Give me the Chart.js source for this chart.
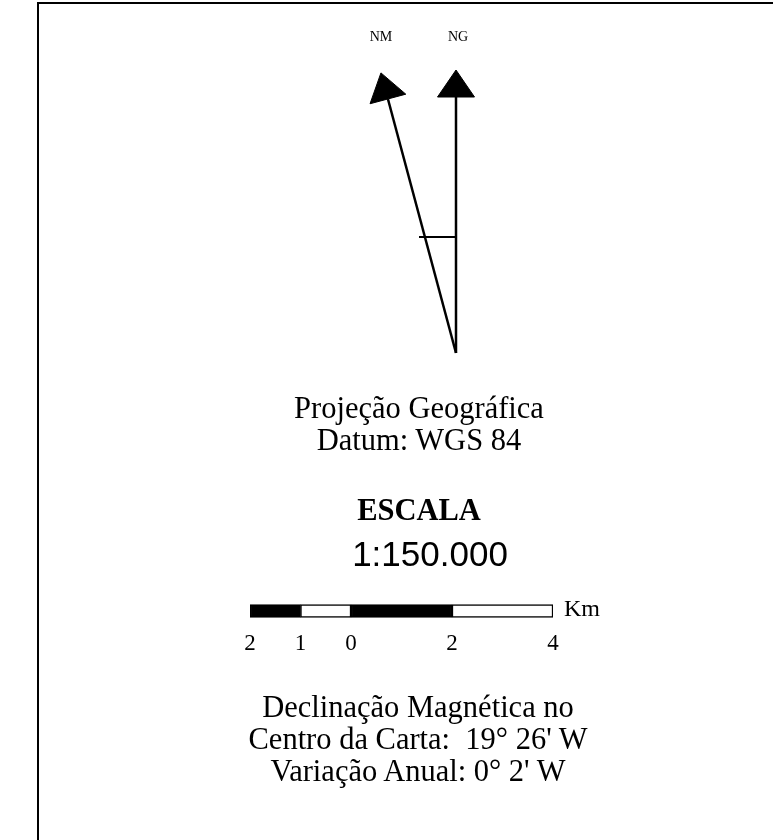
<!DOCTYPE html>
<html>
<head>
<meta charset="utf-8">
<title>Norte e escala</title>
<script src="https://cdn.jsdelivr.net/npm/chart.js@4.4.1/dist/chart.umd.min.js"></script>
<style>
  html, body { margin: 0; padding: 0; background: #fff; width: 773px; height: 840px; overflow: hidden; }
  body { position: relative; font-family: "Liberation Serif", "Times New Roman", serif; color: #000; }
  .frame { position: absolute; left: 37px; top: 2px; width: 800px; height: 900px;
           border-left: 2px solid #000; border-top: 2px solid #000; box-sizing: border-box; }
  canvas { position: absolute; }
  .txt { position: absolute; white-space: nowrap; text-align: center; transform: translateX(-50%); }
  .big { font-size: 30.5px; line-height: 32px; }
  .small { font-size: 14px; line-height: 14px; }
</style>
</head>
<body>
<div class="frame"></div>
<canvas id="north" width="773" height="840" style="left:0;top:0"></canvas>
<canvas id="scalebar" width="323" height="60" style="left:240px;top:596px"></canvas>

<div class="txt small" style="left:381px;top:30px">NM</div>
<div class="txt small" style="left:458px;top:30px">NG</div>

<div class="txt big" style="left:419px;top:392px">Projeção Geográfica<br>Datum: WGS 84</div>
<div class="txt big" style="left:419px;top:494px;font-weight:bold">ESCALA</div>
<div class="txt" style="left:430px;top:536px;font-family:'Liberation Sans',Arial,sans-serif;font-size:35px;line-height:35px">1:150.000</div>
<div class="txt" style="left:582px;top:596px;font-size:24px;line-height:24px">Km</div>
<div class="txt big" style="left:418px;top:691px">Declinação Magnética no<br>Centro da Carta:&nbsp; 19° 26' W<br>Variação Anual: 0° 2' W</div>

<script>
// north arrows: angle from grid north as drawn (deg) and shaft length
const arrowNames = ['NM', 'NG'];
const arrowAngles = [-15, 0];
const arrowLengths = [263, 256];
const headLength = 27;
const headWidth = 37;
// crossbar between the two shafts
const crossbarHeight = 116;
const crossbarWidth = 37;

// scale bar (km)
const scaleTicks = [-2, -1, 0, 2, 4];
const scaleSegments = [[-2, -1], [-1, 0], [0, 2], [2, 4]];

const serif = '"Liberation Serif", "Times New Roman", serif';

// build north arrow datasets (origin at the common foot, y up)
const northDatasets = [];
arrowAngles.forEach((deg, i) => {
  const a = deg * Math.PI / 180;
  const dx = Math.sin(a), dy = Math.cos(a);
  const L = arrowLengths[i];
  const base = { x: dx * L, y: dy * L };
  const tip = { x: dx * (L + headLength), y: dy * (L + headLength) };
  const px = dy * headWidth / 2, py = -dx * headWidth / 2;
  northDatasets.push({
    label: arrowNames[i] + ' shaft',
    data: [{ x: 0, y: 0 }, base],
    showLine: true, borderColor: '#000', borderWidth: 2.5, pointRadius: 0, fill: false
  });
  northDatasets.push({
    label: arrowNames[i] + ' head',
    data: [tip, { x: base.x + px, y: base.y + py }, { x: base.x - px, y: base.y - py }, tip],
    showLine: true, borderColor: '#000', borderWidth: 1, backgroundColor: '#000',
    pointRadius: 0, fill: 'shape'
  });
});
northDatasets.push({
  label: 'crossbar',
  data: [{ x: -crossbarWidth, y: crossbarHeight }, { x: 1, y: crossbarHeight }],
  showLine: true, borderColor: '#000', borderWidth: 2, pointRadius: 0, fill: false
});

new Chart(document.getElementById('north'), {
  type: 'scatter',
  data: { datasets: northDatasets },
  options: {
    responsive: false,
    animation: false,
    events: [],
    layout: { padding: 0 },
    plugins: { legend: { display: false }, tooltip: { enabled: false } },
    elements: { line: { tension: 0 } },
    scales: {
      x: { type: 'linear', min: -456, max: 317, display: false },
      y: { type: 'linear', min: -487, max: 353, display: false }
    }
  }
});

new Chart(document.getElementById('scalebar'), {
  type: 'bar',
  data: {
    labels: ['km'],
    datasets: scaleSegments.map((seg, i) => ({
      data: [seg],
      backgroundColor: i % 2 === 0 ? '#000' : '#fff',
      borderColor: '#000',
      borderWidth: 1.5,
      borderSkipped: false,
      barThickness: 13,
      grouped: false
    }))
  },
  options: {
    indexAxis: 'y',
    responsive: false,
    animation: false,
    events: [],
    layout: { padding: { left: 10, right: 10, top: 0, bottom: 0 } },
    plugins: { legend: { display: false }, tooltip: { enabled: false } },
    scales: {
      x: {
        type: 'linear', min: -2, max: 4,
        afterBuildTicks: s => { s.ticks = scaleTicks.map(v => ({ value: v })); },
        ticks: {
          callback: v => Math.abs(v),
          autoSkip: false, maxRotation: 0, padding: 4,
          color: '#000', font: { family: serif, size: 23 }
        },
        grid: { display: false, drawTicks: false },
        border: { display: false }
      },
      y: { display: false }
    }
  }
});
</script>
</body>
</html>
